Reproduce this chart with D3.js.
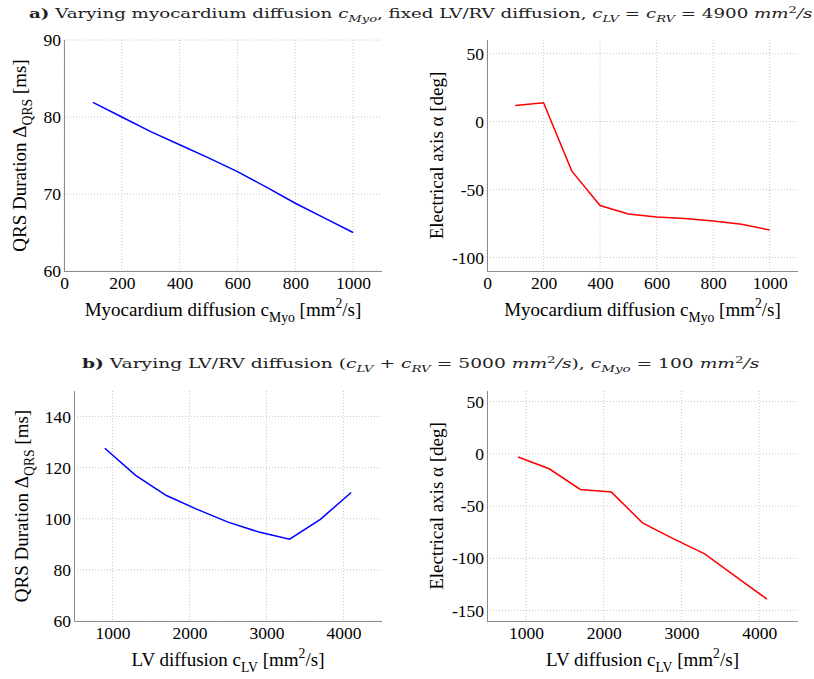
<!DOCTYPE html>
<html>
<head>
<meta charset="utf-8">
<script src="https://cdn.jsdelivr.net/npm/d3@7"></script>
<style>
  body { margin: 0; background: #fff; }
  svg { display: block; }
  .grid line { stroke: #c8c8c8; stroke-dasharray: 1,2; }
  .axis path, .axis line { stroke: #8c8c8c; }
  svg text { font-family: "Liberation Serif", "Times New Roman", serif; }
  svg text.title { font-family: "DejaVu Serif", serif; }
</style>
</head>
<body>
<script>
/************************* Data *************************/
// a) varying myocardium diffusion
const myoDiffusion = [100, 200, 300, 400, 500, 600, 700, 800, 900, 1000];
const qrsMyo       = [81.9, 80.0, 78.1, 76.4, 74.7, 72.9, 70.9, 68.8, 66.9, 65.0];
const axisMyo      = [11.8, 13.8, -36.5, -61.8, -68.0, -70.2, -71.4, -73.2, -75.6, -79.8];

// b) varying LV/RV diffusion
const lvDiffusion  = [900, 1300, 1700, 2100, 2500, 2900, 3300, 3700, 4100];
const qrsLv        = [127.6, 117.0, 109.1, 103.7, 98.7, 94.8, 92.0, 99.8, 110.3];
const axisLv       = [-3.2, -14.4, -34.2, -36.7, -66.1, -81.5, -95.8, -117.6, -139.0];

// tick labels
const myoTicks     = [0, 200, 400, 600, 800, 1000];
const lvTicks      = [1000, 2000, 3000, 4000];
const qrsMyoTicks  = [60, 70, 80, 90];
const axisMyoTicks = [-100, -50, 0, 50];
const qrsLvTicks   = [60, 80, 100, 120, 140];
const axisLvTicks  = [-150, -100, -50, 0, 50];

/************************* Text helpers *************************/
const X_LABEL_MYO = [
  {t: 'Myocardium diffusion c'}, {t: 'Myo', sub: true}, {t: ' [mm'}, {t: '2', sup: true}, {t: '/s]'}
];
const X_LABEL_LV = [
  {t: 'LV diffusion c'}, {t: 'LV', sub: true}, {t: ' [mm'}, {t: '2', sup: true}, {t: '/s]'}
];
const Y_LABEL_QRS = [
  {t: 'QRS Duration \u0394'}, {t: 'QRS', sub: true}, {t: ' [ms]'}
];
const Y_LABEL_AXIS = [
  {t: 'Electrical axis \u03b1 [deg]'}
];
const TITLE_A = [
  {t: 'a)', bold: true}, {t: ' Varying myocardium diffusion '}, {t: 'c', it: true}, {t: 'Myo', it: true, sub: true},
  {t: ', fixed LV/RV diffusion, '}, {t: 'c', it: true}, {t: 'LV', it: true, sub: true},
  {t: ' = '}, {t: 'c', it: true}, {t: 'RV', it: true, sub: true}, {t: ' = 4900 '},
  {t: 'mm', it: true}, {t: '2', sup: true}, {t: '/s', it: true}
];
const TITLE_B = [
  {t: 'b)', bold: true}, {t: ' Varying LV/RV diffusion ('}, {t: 'c', it: true}, {t: 'LV', it: true, sub: true},
  {t: ' + '}, {t: 'c', it: true}, {t: 'RV', it: true, sub: true}, {t: ' = 5000 '},
  {t: 'mm', it: true}, {t: '2', sup: true}, {t: '/s', it: true}, {t: '), '},
  {t: 'c', it: true}, {t: 'Myo', it: true, sub: true}, {t: ' = 100 '},
  {t: 'mm', it: true}, {t: '2', sup: true}, {t: '/s', it: true}
];

/** Write a list of text parts (with sub/superscripts) into a text element */
function richText(text, parts, size) {
  let shift = 0;
  parts.forEach(p => {
    const target = p.sub ? size * 0.32 : p.sup ? -size * 0.4 : 0;
    text.append('tspan')
      .attr('dy', target - shift)
      .attr('font-size', (p.sub || p.sup) ? size * 0.72 : size)
      .attr('font-style', p.it ? 'italic' : null)
      .attr('font-weight', p.bold ? 'bold' : null)
      .text(p.t);
    shift = target;
  });
  return text;
}

/** Title squeezed/stretched to the width it has in the figure */
function drawTitle(svg, parts, x0, x1, y) {
  const g = svg.append('g');
  const text = g.append('text').attr('class', 'title').attr('fill', '#222');
  richText(text, parts, 13);
  const w = text.node().getBBox().width;
  g.attr('transform', `translate(${x0},${y}) scale(${((x1 - x0) / w).toFixed(4)},1)`);
}

/************************* Panels *************************/
const svg = d3.select('body').append('svg')
  .attr('width', 814)
  .attr('height', 679);

/**
 * Draw one line panel
 * @param  {Object} p  panel definition
 */
function drawPanel(p) {
  const x = d3.scaleLinear().domain(p.xDomain).range([p.left, p.right]);
  const y = d3.scaleLinear().domain(p.yDomain).range([p.bottom, p.top]);
  const g = svg.append('g');

  // Grid
  g.append('g').attr('class', 'grid')
    .selectAll('line').data(p.xTicks).join('line')
      .attr('x1', d => x(d)).attr('x2', d => x(d))
      .attr('y1', p.top).attr('y2', p.bottom);
  g.append('g').attr('class', 'grid')
    .selectAll('line').data(p.yTicks).join('line')
      .attr('x1', p.left).attr('x2', p.right)
      .attr('y1', d => y(d)).attr('y2', d => y(d));

  // Axes
  const xAxis = g.append('g').attr('class', 'axis')
    .attr('transform', `translate(0,${p.bottom})`)
    .call(d3.axisBottom(x).tickValues(p.xTicks).tickSize(0).tickPadding(6).tickFormat(d => String(d)));
  xAxis.select('.domain').attr('d', `M${p.left},0.5H${p.right}`);

  const yAxis = g.append('g').attr('class', 'axis')
    .attr('transform', `translate(${p.left},0)`)
    .call(d3.axisLeft(y).tickValues(p.yTicks).tickSize(0).tickPadding(3).tickFormat(d => String(d)));
  yAxis.select('.domain').attr('d', `M0.5,${p.top}V${p.bottom}`);

  g.selectAll('.axis .tick text')
    .style('font-size', '17.5px')
    .attr('fill', '#000');

  // Data line
  g.append('path')
    .datum(p.xs.map((d, i) => [d, p.ys[i]]))
    .attr('fill', 'none')
    .attr('stroke', p.color)
    .attr('stroke-width', 1.5)
    .attr('d', d3.line().x(d => x(d[0])).y(d => y(d[1])));

  // Axis labels
  const xl = g.append('text')
    .attr('text-anchor', 'middle')
    .attr('x', (p.left + p.right) / 2)
    .attr('y', p.bottom + 45);
  richText(xl, p.xLabel, 19);

  const yl = g.append('text')
    .attr('text-anchor', 'middle')
    .attr('transform', `translate(${p.yLabelX},${(p.top + p.bottom) / 2}) rotate(-90)`);
  richText(yl, p.yLabel, 19);
}

drawTitle(svg, TITLE_A, 29, 813, 18);
drawTitle(svg, TITLE_B, 82, 760, 368);

drawPanel({
  left: 64, right: 382, top: 40, bottom: 271,
  xDomain: [0, 1100], yDomain: [60, 90],
  xTicks: myoTicks, yTicks: qrsMyoTicks,
  xs: myoDiffusion, ys: qrsMyo, color: '#0000ff',
  xLabel: X_LABEL_MYO, yLabel: Y_LABEL_QRS, yLabelX: 26
});
drawPanel({
  left: 487, right: 798, top: 40, bottom: 271,
  xDomain: [0, 1100], yDomain: [-110, 60],
  xTicks: myoTicks, yTicks: axisMyoTicks,
  xs: myoDiffusion, ys: axisMyo, color: '#ff0000',
  xLabel: X_LABEL_MYO, yLabel: Y_LABEL_AXIS, yLabelX: 443
});
drawPanel({
  left: 74, right: 382, top: 391, bottom: 621,
  xDomain: [500, 4500], yDomain: [60, 150],
  xTicks: lvTicks, yTicks: qrsLvTicks,
  xs: lvDiffusion, ys: qrsLv, color: '#0000ff',
  xLabel: X_LABEL_LV, yLabel: Y_LABEL_QRS, yLabelX: 28
});
drawPanel({
  left: 487, right: 798, top: 391, bottom: 621,
  xDomain: [500, 4500], yDomain: [-160, 60],
  xTicks: lvTicks, yTicks: axisLvTicks,
  xs: lvDiffusion, ys: axisLv, color: '#ff0000',
  xLabel: X_LABEL_LV, yLabel: Y_LABEL_AXIS, yLabelX: 443
});
</script>
</body>
</html>
